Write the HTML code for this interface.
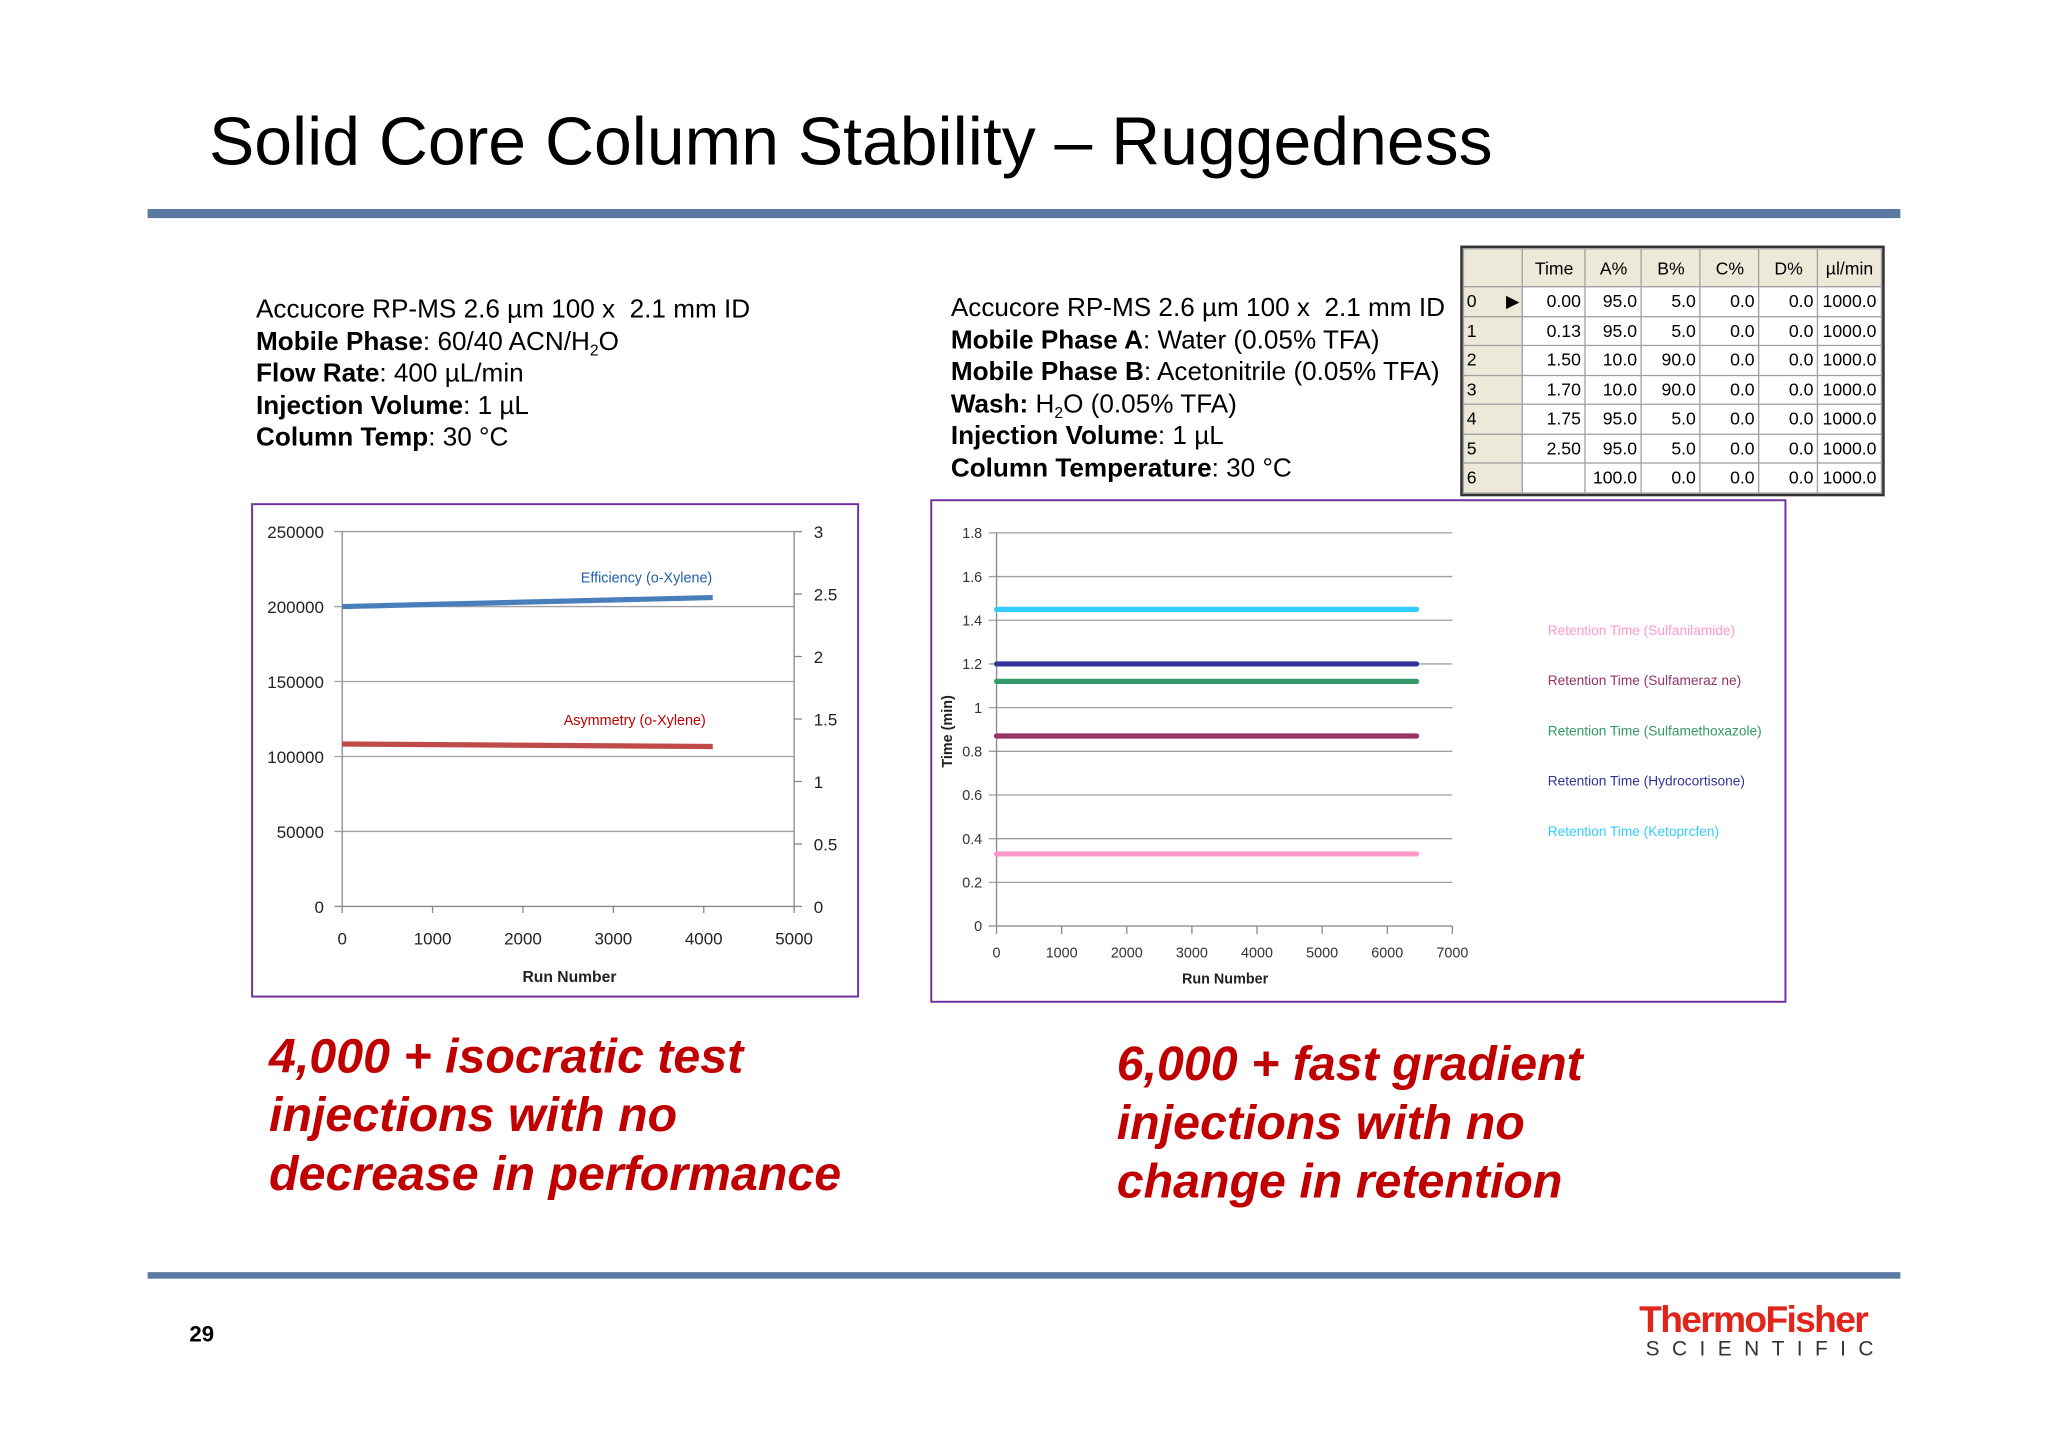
<!DOCTYPE html>
<html><head><meta charset="utf-8">
<style>
html,body{margin:0;padding:0;background:#fff;width:2048px;height:1448px;overflow:hidden}
#s{position:absolute;left:0;top:0;width:1568px;height:1109px;transform:scale(1.3061);transform-origin:0 0;font-family:"Liberation Sans",sans-serif;color:#000}
.a{position:absolute;white-space:nowrap}
.info{font-size:20px;line-height:24.5px}
sub{font-size:12px;line-height:0;vertical-align:-4px}
.big{font-size:37px;font-weight:bold;font-style:italic;color:#c00000;line-height:45px}
table{border-collapse:collapse;font-size:13.5px;font-family:"Liberation Sans",sans-serif}
td{border:1px solid #a0a0a0;height:21.5px;padding:0 3px;text-align:right}
th{border:1px solid #a0a0a0;background:#ece9d8;font-weight:normal;height:26px;text-align:center}
td.r{background:#ece9d8;text-align:left;padding:0 2px}
</style></head><body>
<div id="s">
<div class="a" style="left:160px;top:79px;font-size:52px">Solid Core Column Stability – Ruggedness</div>
<div class="a" style="left:113px;top:160px;width:1342px;height:7px;background:#5b7aa3"></div>

<div class="a info" style="left:196px;top:225px">Accucore RP-MS 2.6 µm 100 x&nbsp; 2.1 mm ID<br><b>Mobile Phase</b>: 60/40 ACN/H<sub>2</sub>O<br><b>Flow Rate</b>: 400 µL/min<br><b>Injection Volume</b>: 1 µL<br><b>Column Temp</b>: 30 °C</div>
<div class="a info" style="left:728px;top:224px">Accucore RP-MS 2.6 µm 100 x&nbsp; 2.1 mm ID<br><b>Mobile Phase A</b>: Water (0.05% TFA)<br><b>Mobile Phase B</b>: Acetonitrile (0.05% TFA)<br><b>Wash:</b> H<sub>2</sub>O (0.05% TFA)<br><b>Injection Volume</b>: 1 µL<br><b>Column Temperature</b>: 30 °C</div>

<div class="a" style="left:1118px;top:188px;border:2px solid #333">
<table>
<tr><th style="width:40px"></th><th style="width:45px">Time</th><th style="width:40px">A%</th><th style="width:42px">B%</th><th style="width:42px">C%</th><th style="width:42px">D%</th><th style="width:42px">µl/min</th></tr>
<tr><td class="r">0 &nbsp;&nbsp;&nbsp;&nbsp;&nbsp;▶</td><td>0.00</td><td>95.0</td><td>5.0</td><td>0.0</td><td>0.0</td><td>1000.0</td></tr>
<tr><td class="r">1</td><td>0.13</td><td>95.0</td><td>5.0</td><td>0.0</td><td>0.0</td><td>1000.0</td></tr>
<tr><td class="r">2</td><td>1.50</td><td>10.0</td><td>90.0</td><td>0.0</td><td>0.0</td><td>1000.0</td></tr>
<tr><td class="r">3</td><td>1.70</td><td>10.0</td><td>90.0</td><td>0.0</td><td>0.0</td><td>1000.0</td></tr>
<tr><td class="r">4</td><td>1.75</td><td>95.0</td><td>5.0</td><td>0.0</td><td>0.0</td><td>1000.0</td></tr>
<tr><td class="r">5</td><td>2.50</td><td>95.0</td><td>5.0</td><td>0.0</td><td>0.0</td><td>1000.0</td></tr>
<tr><td class="r">6</td><td></td><td>100.0</td><td>0.0</td><td>0.0</td><td>0.0</td><td>1000.0</td></tr>
</table></div>

<svg class="a" style="left:0;top:0" width="1568" height="1109">
<rect x="193" y="386" width="464" height="377" fill="#fff" stroke="#7030a0" stroke-width="1.5"/>
<rect x="713" y="383" width="654" height="384" fill="#fff" stroke="#7030a0" stroke-width="1.5"/>
<g id="L"></g><g id="R"></g>
</svg>

<div class="a big" style="left:206px;top:786px">4,000 + isocratic test<br>injections with no<br>decrease in performance</div>
<div class="a big" style="left:855px;top:792px">6,000 + fast gradient<br>injections with no<br>change in retention</div>

<div class="a" style="left:113px;top:974px;width:1342px;height:5px;background:#5b7aa3"></div>
<div class="a" style="left:145px;top:1012px;font-size:17px;font-weight:bold">29</div>
<div class="a" style="left:1255px;top:995px;font-size:28.5px;font-weight:bold;color:#e1251b;letter-spacing:-1.3px">ThermoFisher</div>
<div class="a" style="left:1260px;top:1025px;font-size:16px;letter-spacing:9.5px;color:#333">SCIENTIFIC</div>
</div>
<script>
// left chart data
const lRuns=[0,4100];
const lEff=[200000,206000];
const lAsym=[1.3,1.28];
const lYTicks=[0,50000,100000,150000,200000,250000];
const lY2Ticks=[0,0.5,1,1.5,2,2.5,3];
const lXTicks=[0,1000,2000,3000,4000,5000];
// right chart data
const rNames=["Retention Time (Sulfanilamide)","Retention Time (Sulfameraz ne)","Retention Time (Sulfamethoxazole)","Retention Time (Hydrocortisone)","Retention Time (Ketoprcfen)"];
const rLegendColors=["#ff99cc","#993366","#339966","#333399","#33ccff"];
const rValues=[0.33,0.87,1.12,1.2,1.45];
const rRuns=[0,6450];
const rYTicks=[0,0.2,0.4,0.6,0.8,1,1.2,1.4,1.6,1.8];
const rXTicks=[0,1000,2000,3000,4000,5000,6000,7000];

const NS="http://www.w3.org/2000/svg";
function mk(p,t,a,txt){const e=document.createElementNS(NS,t);for(const k in a)e.setAttribute(k,a[k]);if(txt!==undefined)e.textContent=txt;p.appendChild(e);return e;}
// left
const L=document.getElementById('L');
const lx=v=>262+v/5000*346, ly=v=>694-v/250000*287, ly2=v=>694-v/3*287;
lYTicks.forEach(t=>{const g=mk(L,'line',{x1:256,x2:608,y1:ly(t),y2:ly(t),stroke:t?'#a0a0a0':'#888'});


const tx=mk(L,'text',{x:248,y:ly(t)+5,'text-anchor':'end','font-size':13,fill:'#222'},t);

});
lY2Ticks.forEach(t=>{mk(L,'line',{x1:608,x2:614,y1:ly2(t),y2:ly2(t),stroke:'#888'});
const tx=mk(L,'text',{x:623,y:ly2(t)+5,'font-size':13,fill:'#222'},t);

});
mk(L,'line',{x1:262,x2:262,y1:407,y2:694,stroke:'#888'});
mk(L,'line',{x1:608,x2:608,y1:407,y2:694,stroke:'#888'});
lXTicks.forEach(t=>{mk(L,'line',{x1:lx(t),x2:lx(t),y1:694,y2:699,stroke:'#888'});
const tx=mk(L,'text',{x:lx(t),y:723,'text-anchor':'middle','font-size':13,fill:'#222'},t);

});
let e=mk(L,'text',{x:436,y:752,'text-anchor':'middle','font-size':12,'font-weight':'bold',fill:'#222'},'Run Number');


e=mk(L,'line',{x1:lx(lRuns[0]),x2:lx(lRuns[1]),y1:ly(lEff[0]),y2:ly(lEff[1]),stroke:'#4a7ebb','stroke-width':4});


e=mk(L,'line',{x1:lx(lRuns[0]),x2:lx(lRuns[1]),y1:ly2(lAsym[0]),y2:ly2(lAsym[1]),stroke:'#be4b48','stroke-width':4});


e=mk(L,'text',{x:495,y:446,'text-anchor':'middle','font-size':11,fill:'#1f5fa8'},'Efficiency (o-Xylene)');


e=mk(L,'text',{x:486,y:555,'text-anchor':'middle','font-size':11,fill:'#c00000'},'Asymmetry (o-Xylene)');


// right
const R=document.getElementById('R');
const rx=v=>763+v/7000*349, ry=v=>709-v/1.8*301;
rYTicks.forEach(t=>{const g=mk(R,'line',{x1:757,x2:1112,y1:ry(t),y2:ry(t),stroke:t?'#a0a0a0':'#888'});


const tx=mk(R,'text',{x:752,y:ry(t)+4,'text-anchor':'end','font-size':11,fill:'#333'},t);

});
mk(R,'line',{x1:763,x2:763,y1:408,y2:709,stroke:'#888'});
rXTicks.forEach(t=>{mk(R,'line',{x1:rx(t),x2:rx(t),y1:709,y2:715,stroke:'#888'});
const tx=mk(R,'text',{x:rx(t),y:733,'text-anchor':'middle','font-size':11,fill:'#333'},t);

});
e=mk(R,'text',{x:938,y:753,'text-anchor':'middle','font-size':11,'font-weight':'bold',fill:'#222'},'Run Number');


e=mk(R,'text',{x:729,y:560,'text-anchor':'middle','font-size':11,'font-weight':'bold',fill:'#222',transform:'rotate(-90 729 560)'},'Time (min)');


const lineColors=["#ff99cc","#993366","#339966","#333399","#33ccff"];
rValues.forEach((v,i)=>{const l=mk(R,'line',{x1:rx(rRuns[0]),x2:rx(rRuns[1]),y1:ry(v),y2:ry(v),stroke:lineColors[i],'stroke-width':4,'stroke-linecap':'round'});

});
rNames.forEach((n,i)=>{const t=mk(R,'text',{x:1185,y:486+i*38.5,'font-size':10.5,fill:rLegendColors[i]},n);

});
</script>
</body></html>
